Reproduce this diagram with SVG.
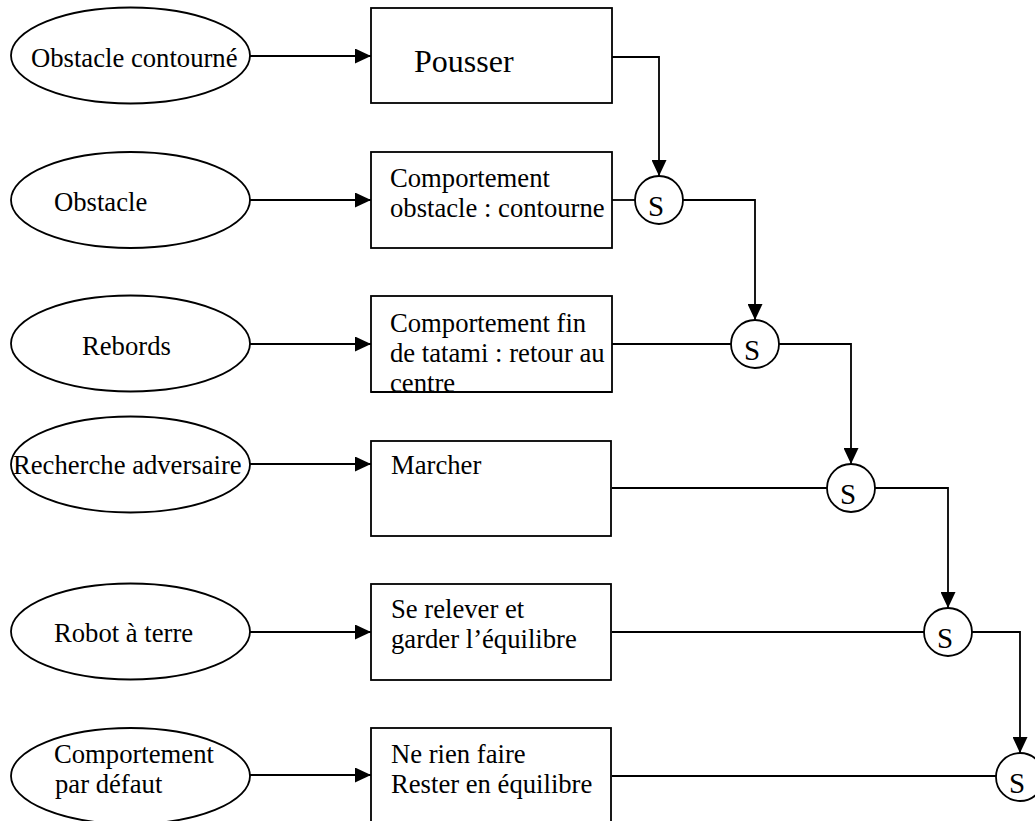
<svg xmlns="http://www.w3.org/2000/svg" width="1035" height="821" viewBox="0 0 1035 821">
<style>
.shape{fill:#fff;stroke:#000;stroke-width:1.8}
.t{font-family:"Liberation Serif","Times New Roman",serif;font-size:26.67px;fill:#000}
.big{font-size:32px}
.s{font-size:29px;text-anchor:middle}
.c{fill:none;stroke:#000;stroke-width:1.8}
</style>
<defs>
<marker id="ah" markerUnits="userSpaceOnUse" markerWidth="16" markerHeight="15" refX="16" refY="7.5" orient="auto">
<path d="M0,0 L16,7.5 L0,15 Z" fill="#000"/>
</marker>
</defs>
<g id="connectors">
<line class="c" x1="250" y1="56" x2="371" y2="56" marker-end="url(#ah)"/>
<line class="c" x1="250" y1="200" x2="371" y2="200" marker-end="url(#ah)"/>
<line class="c" x1="250" y1="344" x2="371" y2="344" marker-end="url(#ah)"/>
<line class="c" x1="250" y1="464" x2="371" y2="464" marker-end="url(#ah)"/>
<line class="c" x1="250" y1="632" x2="371" y2="632" marker-end="url(#ah)"/>
<line class="c" x1="250" y1="775" x2="371" y2="775" marker-end="url(#ah)"/>
<polyline class="c" points="612,57 659,57 659,176" marker-end="url(#ah)"/>
<line class="c" x1="612" y1="200" x2="635" y2="200"/>
<polyline class="c" points="683,200 755,200 755,320" marker-end="url(#ah)"/>
<line class="c" x1="612" y1="344" x2="731" y2="344"/>
<polyline class="c" points="779,344 851,344 851,464" marker-end="url(#ah)"/>
<line class="c" x1="612" y1="488" x2="827" y2="488"/>
<polyline class="c" points="875,488 948,488 948,608" marker-end="url(#ah)"/>
<line class="c" x1="612" y1="632" x2="924" y2="632"/>
<polyline class="c" points="972,632 1020,632 1020,753" marker-end="url(#ah)"/>
<line class="c" x1="612" y1="776" x2="996" y2="776"/>
</g>
<g id="e1"><ellipse class="shape" cx="130.5" cy="55.5" rx="119.5" ry="48"/><text class="t" x="31" y="67">Obstacle contourné</text></g>
<g id="e2"><ellipse class="shape" cx="130.5" cy="200" rx="119.5" ry="48"/><text class="t" x="54" y="211">Obstacle</text></g>
<g id="e3"><ellipse class="shape" cx="130.5" cy="343.5" rx="119.5" ry="48"/><text class="t" x="82" y="355">Rebords</text></g>
<g id="e4"><ellipse class="shape" cx="130.5" cy="464.5" rx="119.5" ry="48"/><text class="t" x="13" y="474">Recherche adversaire</text></g>
<g id="e5"><ellipse class="shape" cx="130.5" cy="631.5" rx="119.5" ry="48"/><text class="t" x="54" y="642">Robot à terre</text></g>
<g id="e6"><ellipse class="shape" cx="130.5" cy="776" rx="119.5" ry="48"/><text class="t" x="54" y="763">Comportement</text><text class="t" x="55" y="793">par défaut</text></g>
<g id="b1"><rect class="shape" x="371" y="8" width="241" height="95"/><text class="t big" x="414" y="72">Pousser</text></g>
<g id="b2"><rect class="shape" x="371" y="152" width="241" height="96"/><text class="t" x="390" y="187">Comportement</text><text class="t" x="390" y="217">obstacle : contourne</text></g>
<g id="b3"><rect class="shape" x="371" y="296" width="241" height="96"/><text class="t" x="390" y="332">Comportement fin</text><text class="t" x="390" y="362">de tatami : retour au</text><text class="t" x="390" y="392">centre</text><line x1="371" y1="392" x2="612" y2="392" stroke="#000" stroke-width="1.8"/></g>
<g id="b4"><rect class="shape" x="371" y="441" width="240" height="95"/><text class="t" x="391" y="474">Marcher</text></g>
<g id="b5"><rect class="shape" x="371" y="584" width="240" height="96"/><text class="t" x="391" y="618">Se relever et</text><text class="t" x="391" y="648">garder l’équilibre</text></g>
<g id="b6"><rect class="shape" x="371" y="728" width="240" height="110"/><text class="t" x="391" y="763">Ne rien faire</text><text class="t" x="391" y="793">Rester en équilibre</text></g>
<g id="s1"><circle class="shape" cx="659" cy="200" r="24"/><text class="t s" x="656" y="216">S</text></g>
<g id="s2"><circle class="shape" cx="755" cy="344" r="24"/><text class="t s" x="752" y="360">S</text></g>
<g id="s3"><circle class="shape" cx="851" cy="488" r="24"/><text class="t s" x="848" y="504">S</text></g>
<g id="s4"><circle class="shape" cx="948" cy="632" r="24"/><text class="t s" x="945" y="648">S</text></g>
<g id="s5"><circle class="shape" cx="1020" cy="777" r="24"/><text class="t s" x="1017" y="793">S</text></g>
</svg>
